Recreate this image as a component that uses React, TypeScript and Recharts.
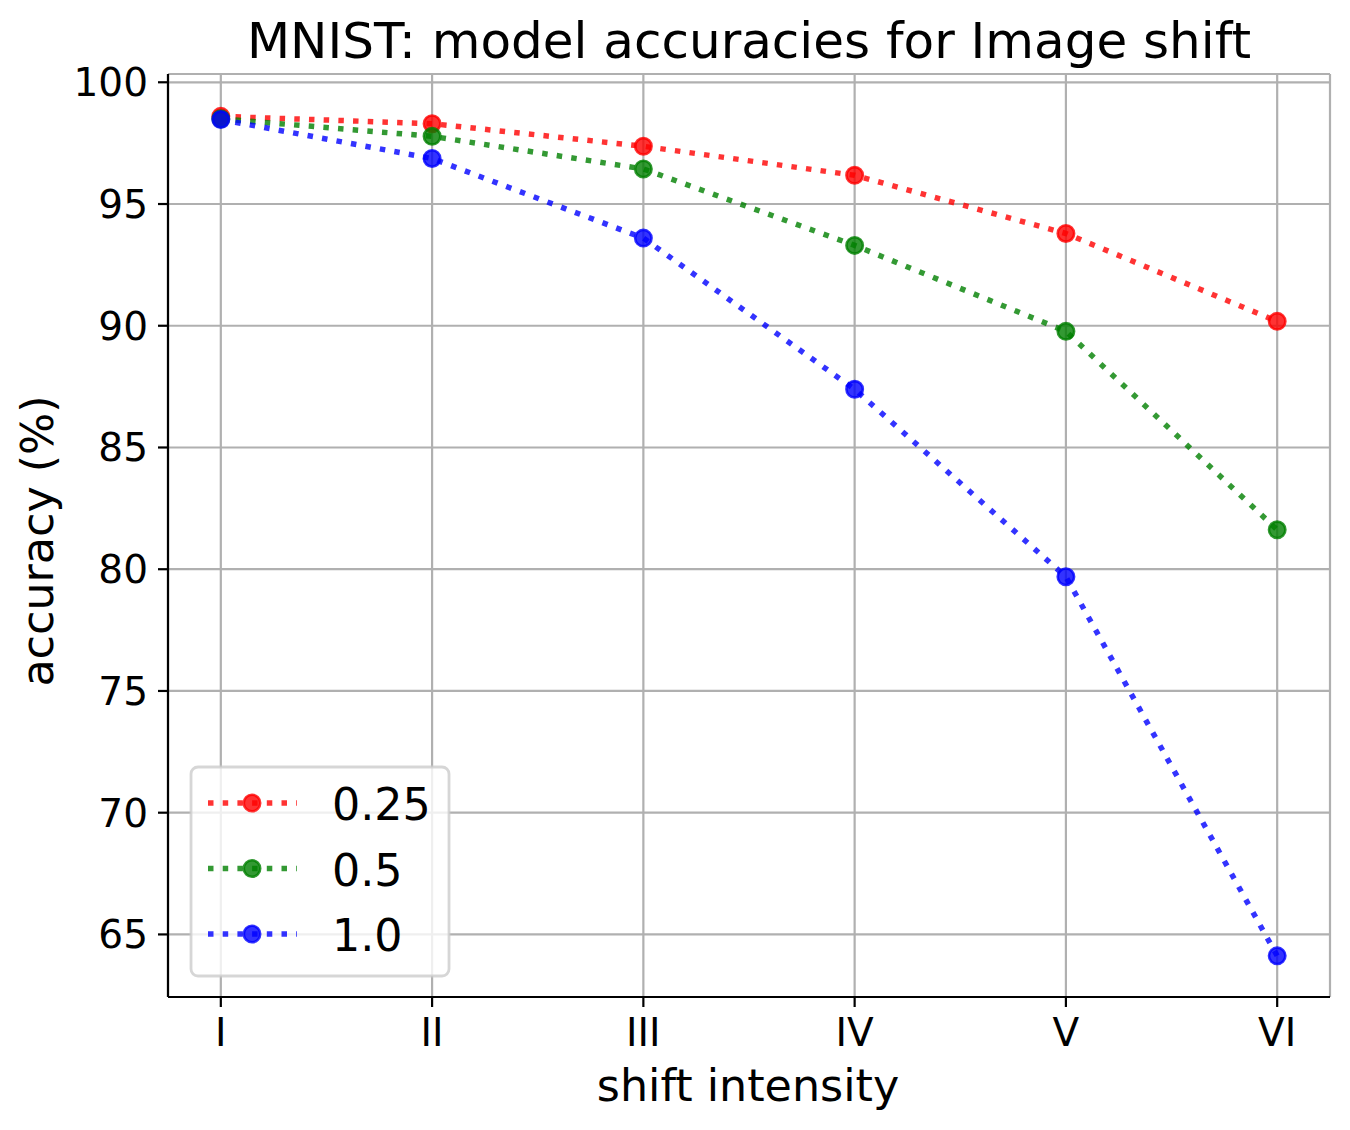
import React from 'react';
import { LineChart, Line, XAxis, YAxis, CartesianGrid, Legend } from 'recharts';

// shift intensity levels (x axis)
const SHIFT_LEVELS = ['I', 'II', 'III', 'IV', 'V', 'VI'];

// model accuracies (%) per shift magnitude
const ACC_025 = [98.6, 98.3, 97.37, 96.18, 93.79, 90.18];
const ACC_05 = [98.5, 97.78, 96.44, 93.3, 89.77, 81.62];
const ACC_10 = [98.47, 96.87, 93.6, 87.39, 79.69, 64.12];

const Y_TICKS = [65, 70, 75, 80, 85, 90, 95, 100];
const X_TICKS = [0, 1, 2, 3, 4, 5];

const SERIES = [
  { key: 'acc025', name: '0.25', color: '#ff0000' },
  { key: 'acc05', name: '0.5', color: '#008000' },
  { key: 'acc10', name: '1.0', color: '#0000ff' },
];

const data = SHIFT_LEVELS.map((label, i) => ({
  x: i,
  label,
  acc025: ACC_025[i],
  acc05: ACC_05[i],
  acc10: ACC_10[i],
}));

const FONT = '"DejaVu Sans", sans-serif';
const LW = 5.5;
const DASH = '5.5 9.2';
const DOT_R = 8.2;
const DOT_EDGE = 2.6;
const AXIS_LINE = { stroke: '#000', strokeWidth: 2.2 };

const makeDot = (color: string) => (props: any) => {
  const { cx, cy, index } = props;
  if (cx == null || cy == null) return <g key={index} />;
  return (
    <circle
      key={index}
      cx={cx}
      cy={cy}
      r={DOT_R}
      fill={color}
      fillOpacity={0.8}
      stroke={color}
      strokeOpacity={0.8}
      strokeWidth={DOT_EDGE}
    />
  );
};

const LegendBox = () => (
  <svg width={262} height={213} style={{ display: 'block' }}>
    <rect x={2} y={2} width={258} height={209} rx={7} ry={7}
      fill="#ffffff" fillOpacity={0.8} stroke="#cccccc" strokeOpacity={0.8} strokeWidth={2.8} />
    {SERIES.map((s, i) => {
      const cy = 38 + i * 65.5;
      return (
        <g key={s.key}>
          <line x1={19} x2={108} y1={cy} y2={cy} stroke={s.color} strokeOpacity={0.8}
            strokeWidth={LW} strokeDasharray={DASH} />
          <circle cx={63} cy={cy} r={DOT_R} fill={s.color} fillOpacity={0.8}
            stroke={s.color} strokeOpacity={0.8} strokeWidth={DOT_EDGE} />
          <text x={143} y={cy + 17} fontSize={44.4} fontFamily={FONT} fill="#000">{s.name}</text>
        </g>
      );
    })}
  </svg>
);

export default function App() {
  return (
    <div style={{ position: 'absolute', left: 0, top: 0, width: 1350, height: 1130, background: '#fff' }}>
      <LineChart
        width={1350}
        height={1130}
        data={data}
        margin={{ top: 74, right: 20, bottom: 0, left: 0 }}
      >
        <CartesianGrid stroke="#b0b0b0" strokeWidth={2.2} />
        <XAxis
          dataKey="x"
          type="number"
          domain={[-0.25, 5.25]}
          ticks={X_TICKS}
          tickFormatter={(v: number) => SHIFT_LEVELS[v]}
          allowDataOverflow
          height={133}
          tickSize={10}
          tickMargin={11}
          axisLine={AXIS_LINE}
          tickLine={AXIS_LINE}
          tick={{ fontSize: 39, fill: '#000', fontFamily: FONT }}
        />
        <XAxis xAxisId="top" orientation="top" dataKey="x" type="number" domain={[-0.25, 5.25]}
          height={0} tick={false} tickLine={false} axisLine={AXIS_LINE} />
        <YAxis
          type="number"
          domain={[62.43, 100.34]}
          ticks={Y_TICKS}
          allowDataOverflow
          width={168}
          tickSize={10}
          tickMargin={10}
          axisLine={AXIS_LINE}
          tickLine={AXIS_LINE}
          tick={{ fontSize: 39, fill: '#000', fontFamily: FONT }}
        />
        <YAxis yAxisId="right" orientation="right" domain={[62.43, 100.34]} width={0}
          tick={false} tickLine={false} axisLine={AXIS_LINE} />
        {SERIES.map((s) => (
          <Line
            key={s.key}
            dataKey={s.key}
            name={s.name}
            type="linear"
            stroke={s.color}
            strokeOpacity={0.8}
            strokeWidth={LW}
            strokeDasharray={DASH}
            dot={makeDot(s.color)}
            activeDot={false}
            isAnimationActive={false}
          />
        ))}
        <Legend
          layout="horizontal"
          verticalAlign="middle"
          align="center"
          wrapperStyle={{ left: 189, top: 765, width: 262, height: 213 }}
          content={() => <LegendBox />}
        />
        <text x={749} y={58} textAnchor="middle" fontSize={50} fontFamily={FONT} fill="#000">
          MNIST: model accuracies for Image shift
        </text>
        <text x={748} y={1101} textAnchor="middle" fontSize={44.4} fontFamily={FONT} fill="#000">
          shift intensity
        </text>
        <text x={53} y={541} transform="rotate(-90 53 541)" textAnchor="middle" fontSize={44.4}
          fontFamily={FONT} fill="#000">
          accuracy (%)
        </text>
      </LineChart>
    </div>
  );
}
